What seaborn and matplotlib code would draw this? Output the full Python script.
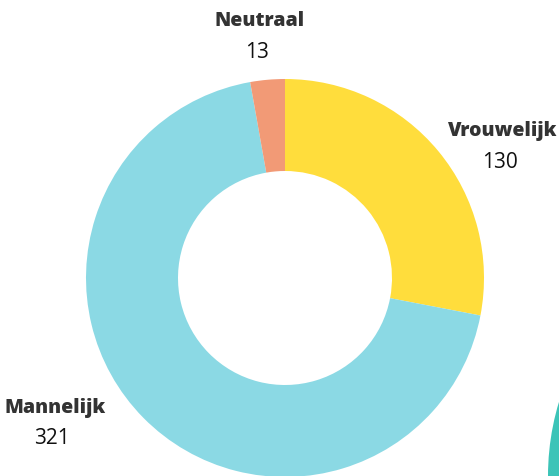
import matplotlib
matplotlib.use("Agg")
import matplotlib.pyplot as plt
import seaborn as sns
from matplotlib.patches import Circle

# data
categories = ["Vrouwelijk", "Mannelijk", "Neutraal"]
counts = [130, 321, 13]
colors = ["#FFDD3C", "#8BD9E4", "#F29A76"]

sns.set_theme(style="white")
plt.rcParams["font.family"] = ["Open Sans", "DejaVu Sans"]

W, H = 559, 477
fig = plt.figure(figsize=(W / 100, H / 100), dpi=100)
ax = fig.add_axes([0, 0, 1, 1])

# donut (pixel units, y measured from the bottom)
cx, cy = 285, H - 279
r_out, r_in = 199, 107
ax.pie(counts, colors=colors, startangle=90, counterclock=False,
       center=(cx, cy), radius=r_out, frame=True,
       wedgeprops=dict(width=r_out - r_in, linewidth=0))
ax.set_xlim(0, W)
ax.set_ylim(0, H)
ax.set_aspect("equal")
ax.axis("off")

# part of a neighbouring donut peeking in at the bottom right
ax.add_patch(Circle((804, H - 477), 256, color="#3CC4B8", lw=0))

# labels
label_pos = {"Vrouwelijk": (503, H - 131), "Mannelijk": (55, H - 408), "Neutraal": (260, H - 21)}
for name, n in zip(categories, counts):
    x, y = label_pos[name]
    ax.text(x, y, name, ha="center", va="center", fontsize=14,
            fontweight="heavy", color="#333333")
    ax.text(x - 3, y - 31, str(n), ha="center", va="center", fontsize=15,
            fontweight="medium", color="#111111")

fig.savefig("out.png", dpi=100)
